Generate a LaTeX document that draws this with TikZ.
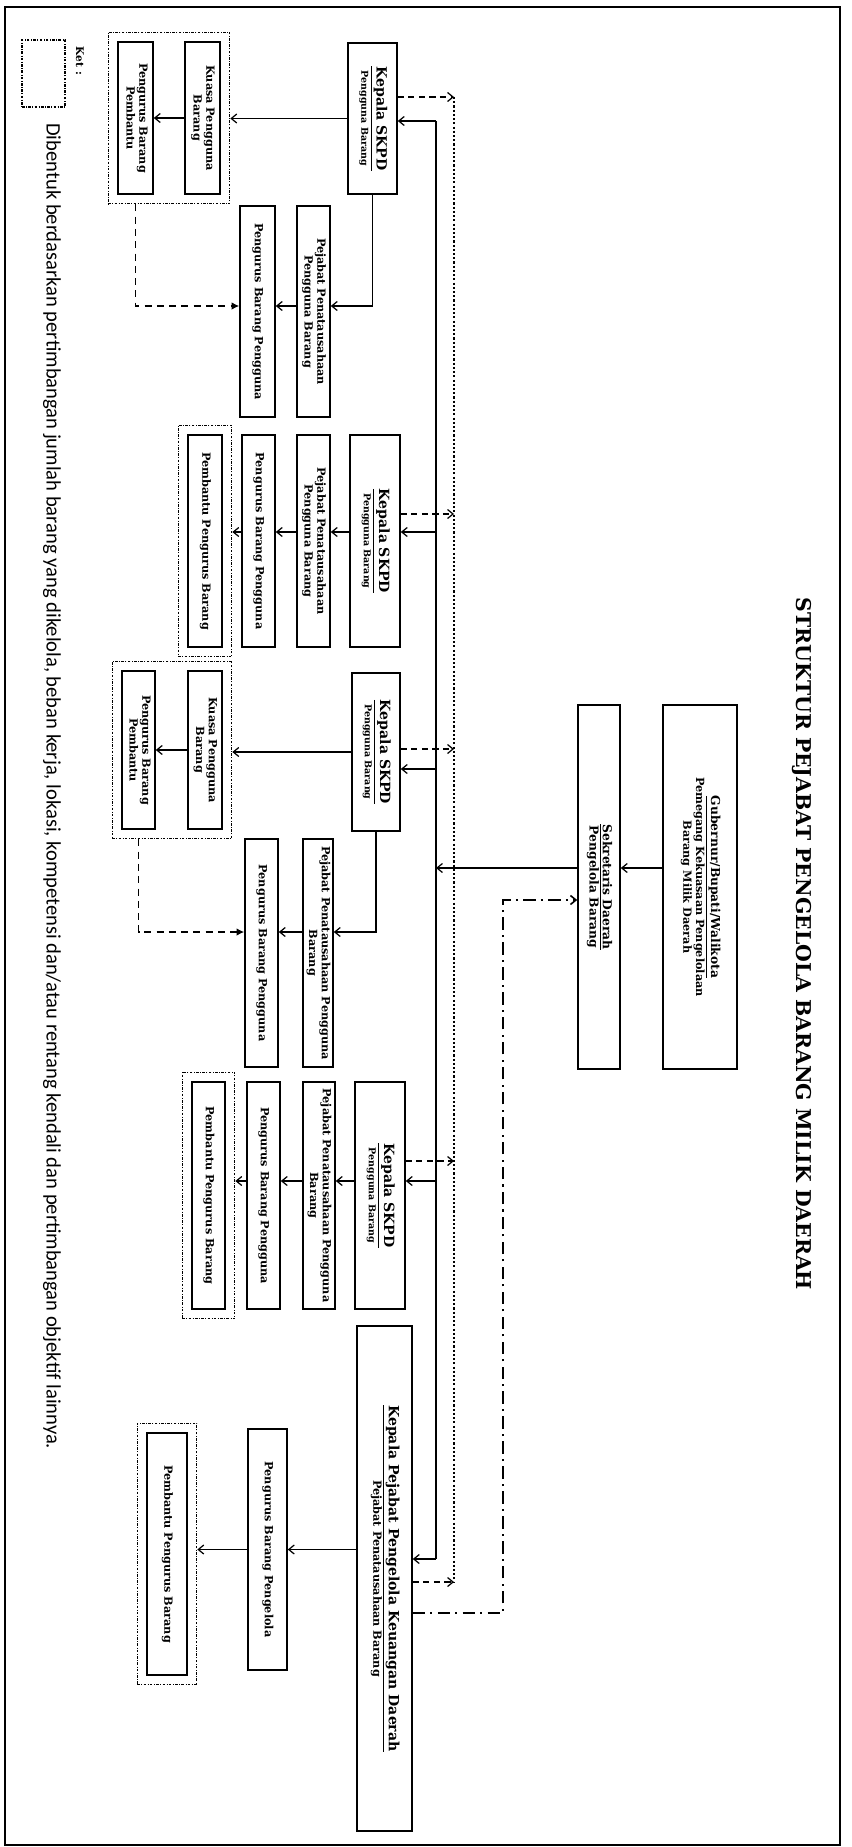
\documentclass[tikz,border=0pt]{standalone}
\usepackage{fontspec}
\setmainfont{DejaVu Serif}
\newfontfamily\notefont{Carlito}
\usetikzlibrary{arrows.meta,fit}

\newcommand{\fbig}{\fontsize{8}{9}\selectfont}
\newcommand{\fmid}{\fontsize{7}{8}\selectfont}
\newcommand{\fsm}{\fontsize{6.4}{7.2}\selectfont}
\newcommand{\ftiny}{\fontsize{5.4}{6.4}\selectfont}
\newcommand{\vt}[1]{\rotatebox{-90}{\begin{tabular}{@{}c@{}}#1\end{tabular}}}

\begin{document}
\begin{tikzpicture}[x=0.2mm,y=-0.2mm,
    box/.style={draw, line width=0.9pt, inner sep=0pt, align=center,
      font=\bfseries\fsm},
    grp/.style={draw, line width=0.6pt, inner sep=1.8mm,
      dash pattern=on 1.5pt off 0.8pt on 0.5pt off 0.8pt},
    lnk/.style={line width=0.7pt, -{Straight Barb[length=1.1mm,width=1.8mm]}},
    dsh/.style={lnk, dash pattern=on 3.5pt off 2.5pt},
    dshf/.style={line width=0.8pt, dash pattern=on 4pt off 3pt,
      -{Latex[length=1.5mm,width=1.5mm]}},
    bus/.style={line width=0.9pt, dash pattern=on 1.2pt off 1.2pt},
    ddot/.style={lnk, line width=0.9pt, dash pattern=on 7pt off 3pt on 1.2pt off 3pt}]

  \useasboundingbox (0,0) rectangle (851,1847);
  \draw[line width=1pt] (5,7) rectangle (840,1845);

  % Judul
  \node (title) at (802,944) {\rotatebox{-90}{\fontsize{11.6}{14}\selectfont\bfseries
    STRUKTUR PEJABAT PENGELOLA BARANG MILIK DAERAH}};

  % Pengelola
  \node[box, minimum width=14.8mm, minimum height=72.8mm] (gub) at (700,887)
    {\vt{\fmid\underline{Gubernur/Bupati/Walikota}\\ Pemegang Kekuasaan Pengelolaan\\ Barang Milik Daerah}};
  \node[box, minimum width=8.4mm, minimum height=72.8mm] (sek) at (599,887)
    {\vt{\fmid\underline{Sekretaris Daerah}\\ \fmid Pengelola Barang}};

  % Pengguna Barang
  \node[box, minimum width=9.8mm, minimum height=30.2mm] (kepA) at (372.5,118.5)
    {\vt{\fbig\underline{Kepala SKPD}\\ \ftiny Pengguna Barang}};
  \node[box, minimum width=10mm, minimum height=42.4mm] (kepB) at (375,541)
    {\vt{\fbig\underline{Kepala SKPD}\\ \ftiny Pengguna Barang}};
  \node[box, minimum width=9.6mm, minimum height=31.6mm] (kepC) at (376,752)
    {\vt{\fbig\underline{Kepala SKPD}\\ \ftiny Pengguna Barang}};
  \node[box, minimum width=10mm, minimum height=45.4mm] (kepD) at (380,1195.5)
    {\vt{\fbig\underline{Kepala SKPD}\\ \ftiny Pengguna Barang}};
  \node[box, minimum width=11mm, minimum height=101mm] (ppkd) at (384.5,1578.5)
    {\vt{\fbig\underline{Kepala Pejabat Pengelola Keuangan Daerah}\\ \fsm Pejabat Penatausahaan Barang}};

  % Penatausahaan
  \node[box, minimum width=6.6mm, minimum height=42.2mm] (pjbA) at (313.5,311.5)
    {\vt{Pejabat Penatausahaan\\ Pengguna Barang}};
  \node[box, minimum width=6.6mm, minimum height=42.4mm] (pjbB) at (313.5,541)
    {\vt{Pejabat Penatausahaan\\ Pengguna Barang}};
  \node[box, minimum width=6mm, minimum height=45.6mm] (pjbC) at (318,953)
    {\vt{Pejabat Penatausahaan Pengguna\\ Barang}};
  \node[box, minimum width=6.4mm, minimum height=45.4mm] (pjbD) at (319,1195.5)
    {\vt{Pejabat Penatausahaan Pengguna\\ Barang}};

  % Pengurus Barang
  \node[box, minimum width=7mm, minimum height=42.2mm] (pgrA) at (257.5,311.5)
    {\vt{Pengurus Barang Pengguna}};
  \node[box, minimum width=6.6mm, minimum height=42.4mm] (pgrB) at (258.5,541)
    {\vt{Pengurus Barang Pengguna}};
  \node[box, minimum width=6.6mm, minimum height=45.6mm] (pgrC) at (261.5,953)
    {\vt{Pengurus Barang Pengguna}};
  \node[box, minimum width=6.6mm, minimum height=45.4mm] (pgrD) at (263.5,1195.5)
    {\vt{Pengurus Barang Pengguna}};
  \node[box, minimum width=7.8mm, minimum height=48.2mm] (pgrE) at (267.5,1549.5)
    {\vt{Pengurus Barang Pengelola}};

  % Kuasa dan pembantu
  \node[box, minimum width=7mm, minimum height=30.4mm] (kpbA) at (202.5,118)
    {\vt{Kuasa Pengguna\\ Barang}};
  \node[box, minimum width=7mm, minimum height=30.4mm] (pbtA) at (135.5,118)
    {\vt{Pengurus Barang\\ Pembantu}};
  \node[box, minimum width=6.8mm, minimum height=31.6mm] (kpbC) at (205,750)
    {\vt{Kuasa Pengguna\\ Barang}};
  \node[box, minimum width=6.6mm, minimum height=31.6mm] (pbtC) at (138.5,750)
    {\vt{Pengurus Barang\\ Pembantu}};
  \node[box, minimum width=6.8mm, minimum height=42.4mm] (pppB) at (205,541)
    {\vt{Pembantu Pengurus Barang}};
  \node[box, minimum width=6.6mm, minimum height=45.4mm] (pppD) at (208.5,1195.5)
    {\vt{Pembantu Pengurus Barang}};
  \node[box, minimum width=8mm, minimum height=48.4mm] (pppE) at (167,1554)
    {\vt{Pembantu Pengurus Barang}};

  \node[grp, fit=(kpbA)(pbtA)] (grpA) {};
  \node[grp, fit=(pppB)] (grpB) {};
  \node[grp, fit=(kpbC)(pbtC)] (grpC) {};
  \node[grp, fit=(pppD)] (grpD) {};
  \node[grp, fit=(pppE)] (grpE) {};

  % Jalur
  \coordinate (sTop) at (436,121);
  \coordinate (sBot) at (436,1559);
  \coordinate (dTop) at (454,97);
  \coordinate (dBot) at (454,1582);
  \coordinate (ddB) at (503,900);

  \draw[lnk] (gub.west |- 0,868) -- (sek.east |- 0,868);
  \draw[lnk] (sek.west |- 0,868) -- (sTop |- 0,868);
  \draw[line width=0.8pt] (sTop) -- (sBot);
  \draw[bus] (dTop) -- (dBot);
  \foreach \k/\ys/\yd in {kepA/121/97, kepB/532/514, kepC/769/749,
      kepD/1181/1161, ppkd/1559/1582} {
    \draw[lnk] (sTop |- 0,\ys) -- (\k.east |- 0,\ys);
    \draw[dsh] (\k.east |- 0,\yd) -- (dTop |- 0,\yd);
  }
  \draw[ddot] (ppkd.east |- 0,1613) -| (ddB) -- (sek.west |- ddB);

  % Kolom 1
  \draw[lnk] (kepA.west) -- (kepA.west -| grpA.east);
  \draw[lnk] (kpbA.west) -- (pbtA.east);
  \draw[lnk] (kepA.south) |- (pjbA.east |- 0,306);
  \draw[lnk] (pjbA.west |- 0,306) -- (pgrA.east |- 0,306);
  \draw[dshf] (grpA.south -| pbtA) |- (pgrA.west |- 0,306);

  % Kolom 2
  \draw[lnk] (kepB.west |- 0,532) -- (pjbB.east |- 0,532);
  \draw[lnk] (pjbB.west |- 0,532) -- (pgrB.east |- 0,532);
  \draw[lnk] (pgrB.west |- 0,532) -- (grpB.east |- 0,532);

  % Kolom 3
  \draw[lnk] (kepC.west) -- (kepC.west -| grpC.east);
  \draw[lnk] (kpbC.west) -- (pbtC.east);
  \draw[lnk] (kepC.south) |- (pjbC.east |- 0,932);
  \draw[lnk] (pjbC.west |- 0,932) -- (pgrC.east |- 0,932);
  \draw[dshf] (grpC.south -| pbtC) |- (pgrC.west |- 0,932);

  % Kolom 4
  \draw[lnk] (kepD.west |- 0,1181) -- (pjbD.east |- 0,1181);
  \draw[lnk] (pjbD.west |- 0,1181) -- (pgrD.east |- 0,1181);
  \draw[lnk] (pgrD.west |- 0,1181) -- (grpD.east |- 0,1181);

  % Kolom 5
  \draw[lnk] (ppkd.west |- pgrE) -- (pgrE.east);
  \draw[lnk] (pgrE.west) -- (grpE.east |- pgrE);

  % Keterangan
  \node (ket) at (80,61) {\rotatebox{-90}{\bfseries\fontsize{6}{7}\selectfont Ket :}};
  \node[grp, inner sep=0pt, minimum width=8.6mm, minimum height=13.4mm] (ketbox) at (43.5,73.5) {};
  \node[inner sep=0pt, anchor=north] (note) at (52,123) {\rotatebox{-90}{\notefont\fontsize{11.7}{13}\selectfont
    Dibentuk berdasarkan pertimbangan jumlah barang yang dikelola, beban kerja, lokasi, kompetensi dan/atau rentang kendali dan pertimbangan objektif lainnya.}};
\end{tikzpicture}
\end{document}
